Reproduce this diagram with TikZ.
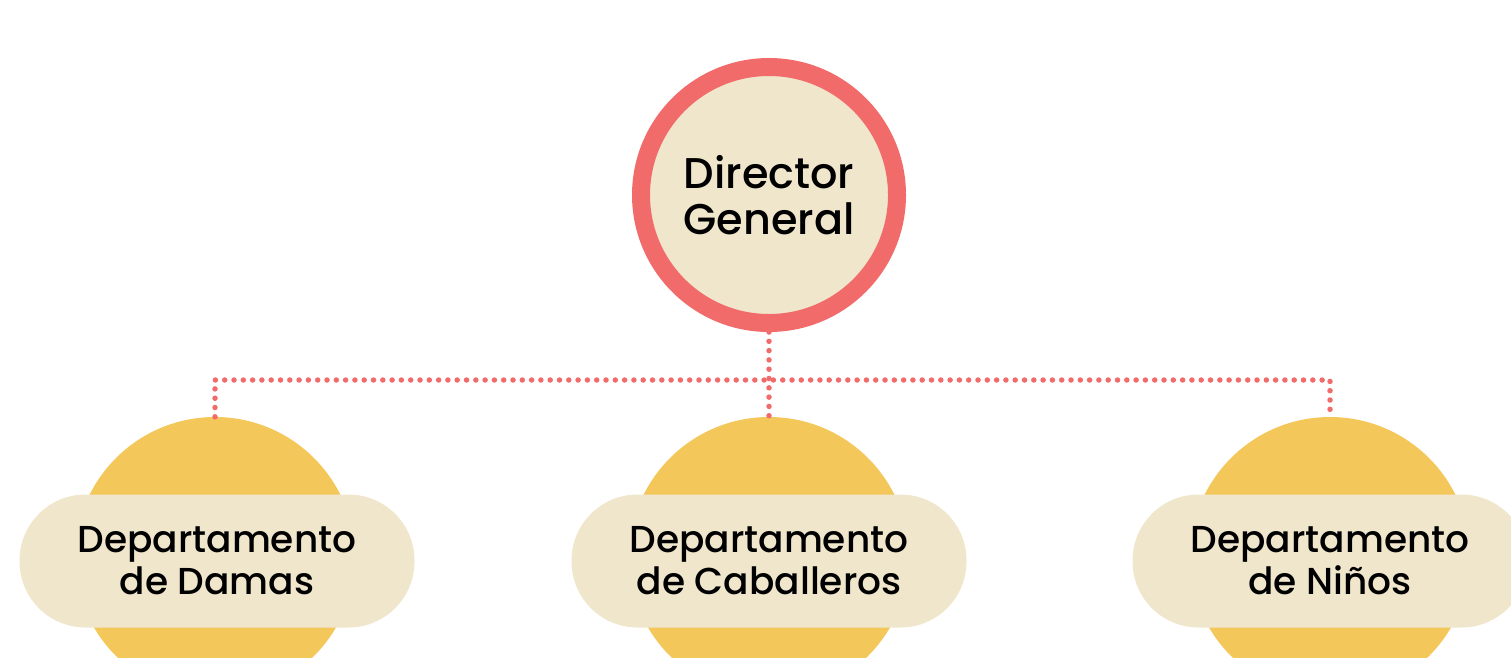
\documentclass[tikz,border=0pt]{standalone}
\usepackage{fontspec}
\setmainfont{Poppins}[UprightFont={* Medium}]
\usetikzlibrary{positioning}
\definecolor{ringred}{RGB}{242,107,107}
\definecolor{cream}{RGB}{239,230,204}
\definecolor{sunny}{RGB}{244,199,90}

\begin{document}
\begin{tikzpicture}[
    x=1pt, y=-1pt,
    director/.style={circle, draw=ringred, line width=18pt, fill=cream, minimum size=256pt, inner sep=0pt, align=center, font=\fontsize{43}{46}\selectfont},
    deptdisc/.style={circle, fill=sunny, minimum size=280pt, inner sep=0pt},
    pill/.style={rectangle, fill=cream, rounded corners=66pt, minimum width=395pt, minimum height=133pt, inner sep=0pt, align=center, font=\fontsize{37.5}{42}\selectfont},
    dots/.style={draw=ringred, line width=5.5pt, line cap=round, dash pattern=on 0pt off 9.3pt}
]
\useasboundingbox (0,0) rectangle (1511,657);
\clip (0,0) rectangle (1511,657);

% Director
\node[director] (dir) at (769,195) {Director\\General};

% Departments
\node[deptdisc] (damasC) at (215,557) {};
\node[deptdisc] (cabC) at (769,557) {};
\node[deptdisc] (ninosC) at (1330,557) {};

\node[pill] (damas) at (217,561) {Departamento\\de Damas};
\node[pill] (cab) at (769,561) {Departamento\\de Caballeros};
\node[pill] (ninos) at (1330,561) {Departamento\\de Niños};

% Connectors
\coordinate (bus) at (769,380);
\draw[dots] (dir.south) -- (cabC.north);
\draw[dots] (damasC.north) |- (bus) -| (ninosC.north);

\end{tikzpicture}
\end{document}
